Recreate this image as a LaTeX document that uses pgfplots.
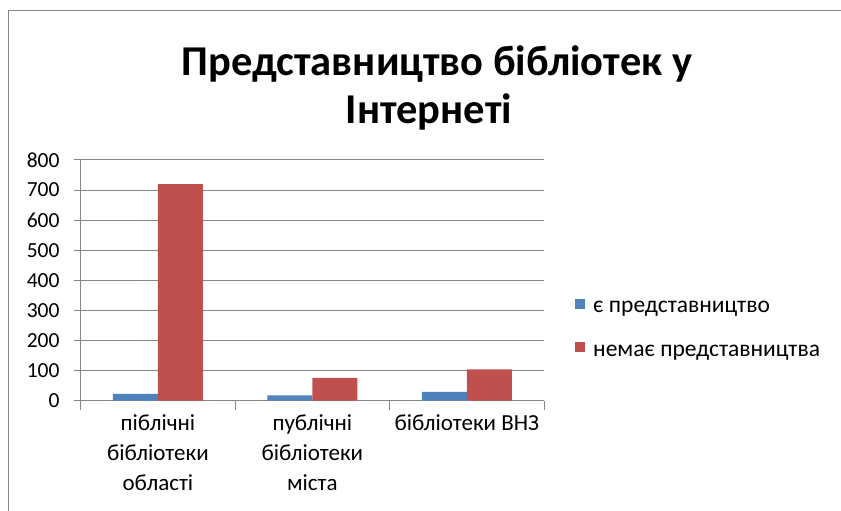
\documentclass[border=0pt]{standalone}
\usepackage{fontspec}
\setmainfont{Carlito}
\usepackage{pgfplots}
\pgfplotsset{compat=1.18}
\definecolor{exblue}{HTML}{4F81BD}
\definecolor{exred}{HTML}{C0504D}
\definecolor{exgrid}{HTML}{868686}
\begin{document}
\begin{tikzpicture}[x=1bp,y=1bp]
\useasboundingbox (0,0) rectangle (841,511);
% chart frame (runs off the right and bottom edges)
\draw[exgrid, line width=1.5bp] (8.5,-20) -- (8.5,500.5) -- (900,500.5);
\node[anchor=base, font=\fontsize{42.5bp}{46bp}\selectfont\bfseries] at (437,435) {Представництво бібліотек у};
\node[anchor=base, font=\fontsize{42.5bp}{46bp}\selectfont\bfseries] at (429,387) {Інтернеті};
\begin{axis}[
  at={(80.7bp,110.3bp)}, anchor=south west,
  scale only axis, width=463.3bp, height=240.7bp,
  xmin=-0.5, xmax=2.5, ymin=0, ymax=800,
  ytick={0,100,...,800},
  xtick={0,1,2},
  xticklabels={{піблічні\\бібліотеки\\області},{публічні\\бібліотеки\\міста},{бібліотеки ВНЗ}},
  minor xtick={-0.5,0.5,1.5,2.5},
  axis lines*=left,
  axis line style={exgrid, line width=1bp},
  ymajorgrids, grid style={exgrid, line width=1bp},
  tick align=outside,
  tick style={exgrid, line width=1bp},
  major tick length=7bp, minor tick length=9bp,
  major x tick style={draw=none},
  ybar=0pt, bar width=45bp,
  yticklabel style={font=\fontsize{21.5bp}{24bp}\selectfont, inner sep=0pt, xshift=-14bp},
  xticklabel style={font=\fontsize{23bp}{30bp}\selectfont, align=center, inner sep=0pt, yshift=-7bp, anchor=north},
  /pgf/number format/assume math mode=true,
  legend style={draw=none, fill=none, at={(axis description cs:1.067,0.296)}, anchor=west,
    font=\fontsize{23.5bp}{28bp}\selectfont, row sep=26bp, column sep=6bp, inner sep=0pt},
  legend cell align=left,
  legend image code/.code={\fill[#1] (0bp,-1bp) rectangle (10bp,9bp);},
]
\addplot[draw=none, fill=exblue] coordinates {(0,23) (1,18) (2,29)};
\addplot[draw=none, fill=exred] coordinates {(0,720) (1,76) (2,104)};
\legend{є представництво, немає представництва}
\end{axis}
\end{tikzpicture}
\end{document}
